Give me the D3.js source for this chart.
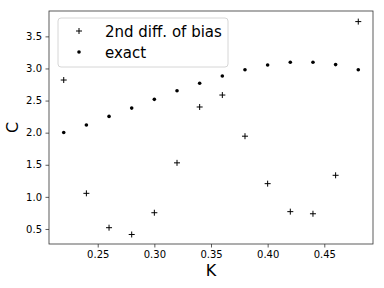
<!DOCTYPE html>
<html lang="en">
<head>
    <meta charset="UTF-8">
    <title>C vs K</title>
    <script src="https://cdn.jsdelivr.net/npm/d3@7/dist/d3.min.js"></script>
    <style>
        body { margin: 0; background: #fff; }
        text { font-family: "DejaVu Sans", sans-serif; fill: #000; }
    </style>
</head>
<body>
<script>
    // data
    const kValues = [0.22, 0.24, 0.26, 0.28, 0.30, 0.32, 0.34, 0.36, 0.38, 0.40, 0.42, 0.44, 0.46, 0.48];
    const diffBias = [2.82, 1.055, 0.52, 0.414, 0.753, 1.53, 2.40, 2.586, 1.945, 1.206, 0.77, 0.737, 1.336, 3.73];
    const exact = [2.003, 2.12, 2.253, 2.383, 2.519, 2.653, 2.769, 2.883, 2.98, 3.055, 3.097, 3.097, 3.06, 2.98];
    const xTicks = [0.25, 0.30, 0.35, 0.40, 0.45];
    const yTicks = [0.5, 1.0, 1.5, 2.0, 2.5, 3.0, 3.5];
    const legendLabels = ['2nd diff. of bias', 'exact'];

    const width = 384;
    const height = 288;
    const plot = { left: 49, right: 373, top: 11, bottom: 244 };

    let svg = d3.select('body')
        .append('svg')
        .attr('width', width)
        .attr('height', height);

    let xScale = d3.scaleLinear()
        .domain([0.207, 0.493])
        .range([plot.left, plot.right]);

    let yScale = d3.scaleLinear()
        .domain([0.266, 3.895])
        .range([plot.bottom, plot.top]);

    // axes
    let xAxis = d3.axisBottom(xScale)
        .tickValues(xTicks)
        .tickSize(3.5)
        .tickPadding(3.5)
        .tickFormat(d3.format('.2f'));
    let yAxis = d3.axisLeft(yScale)
        .tickValues(yTicks)
        .tickSize(3.5)
        .tickPadding(3.5)
        .tickFormat(d3.format('.1f'));

    svg.append('g')
        .attr('transform', `translate(0, ${plot.bottom})`)
        .call(xAxis)
        .call(g => g.select('.domain').remove());
    svg.append('g')
        .attr('transform', `translate(${plot.left}, 0)`)
        .call(yAxis)
        .call(g => g.select('.domain').remove());
    svg.selectAll('.tick text')
        .attr('font-size', 10)
        .attr('font-family', 'DejaVu Sans')
        .attr('fill', '#222');
    svg.selectAll('.tick line').attr('stroke', '#333').attr('stroke-width', 0.8);

    // frame
    svg.append('rect')
        .attr('x', plot.left)
        .attr('y', plot.top)
        .attr('width', plot.right - plot.left)
        .attr('height', plot.bottom - plot.top)
        .attr('fill', 'none')
        .attr('stroke', '#333')
        .attr('stroke-width', 0.8);

    // axis labels
    svg.append('text')
        .attr('x', (plot.left + plot.right) / 2)
        .attr('y', 276)
        .attr('text-anchor', 'middle')
        .attr('font-size', 16)
        .text('K');
    svg.append('text')
        .attr('transform', `translate(18, ${(plot.top + plot.bottom) / 2}) rotate(-90)`)
        .attr('text-anchor', 'middle')
        .attr('font-size', 16)
        .text('C');

    function plusPath(size) {
        const h = size / 2;
        return `M${-h},0H${h}M0,${-h}V${h}`;
    }

    // 2nd diff. of bias
    svg.selectAll('.diff')
        .data(diffBias)
        .enter()
        .append('path')
        .attr('class', 'diff')
        .attr('d', plusPath(6))
        .attr('transform', (d, i) => `translate(${xScale(kValues[i])}, ${yScale(d)})`)
        .attr('stroke', '#000')
        .attr('stroke-width', 1)
        .attr('fill', 'none');

    // exact
    svg.selectAll('.exact')
        .data(exact)
        .enter()
        .append('circle')
        .attr('class', 'exact')
        .attr('cx', (d, i) => xScale(kValues[i]))
        .attr('cy', d => yScale(d))
        .attr('r', 1.8)
        .attr('fill', '#000');

    // legend
    let legend = svg.append('g');
    legend.append('rect')
        .attr('x', 58)
        .attr('y', 18)
        .attr('width', 170)
        .attr('height', 49)
        .attr('rx', 3)
        .attr('fill', '#fff')
        .attr('fill-opacity', 0.8)
        .attr('stroke', '#ccc')
        .attr('stroke-width', 0.8);
    legend.append('path')
        .attr('d', plusPath(6))
        .attr('transform', 'translate(79, 31)')
        .attr('stroke', '#000')
        .attr('fill', 'none');
    legend.append('circle')
        .attr('cx', 79)
        .attr('cy', 52)
        .attr('r', 1.8)
        .attr('fill', '#000');
    legend.selectAll('.label')
        .data(legendLabels)
        .enter()
        .append('text')
        .attr('class', 'label')
        .attr('x', 105)
        .attr('y', (d, i) => 36.5 + i * 21)
        .attr('font-size', 15)
        .text(d => d);
</script>
</body>
</html>
